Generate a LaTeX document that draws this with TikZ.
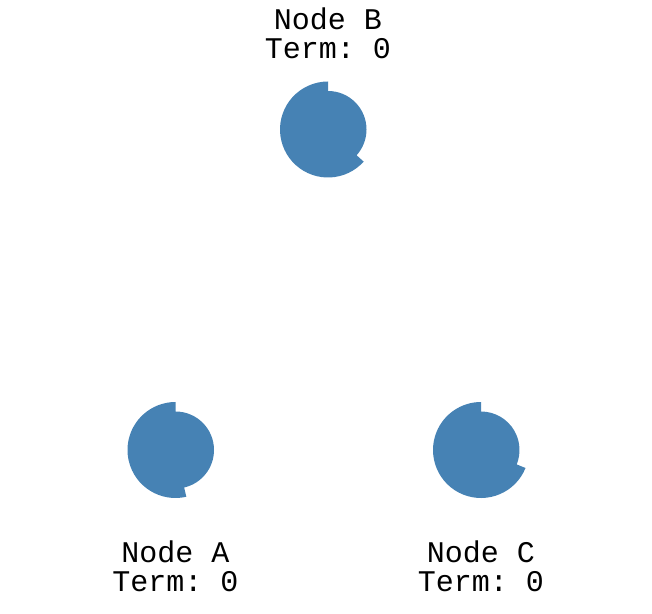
\documentclass[tikz,border=0pt]{standalone}
\usepackage{fontspec}
\setmonofont{Liberation Mono}
\usetikzlibrary{calc}
\definecolor{discblue}{RGB}{70,130,180}
\tikzset{
  lbl/.style={anchor=base,inner sep=0pt,font=\ttfamily\fontsize{30}{29}\selectfont,text=black},
  disc/.style={fill=discblue,draw=none}
}
\newcommand\termdisc[2]{%
  \fill[disc] ($(#1)+(90:38.5)$) arc[start angle=90,end angle=#2,radius=38.5]
    -- ($(#1)+(#2:48)$) arc[start angle=#2,end angle=-270,radius=48] -- cycle;}
\begin{document}
\begin{tikzpicture}[x=1pt,y=1pt]
\useasboundingbox (0,0) rectangle (652,613);
\coordinate (B) at (328,483.5);
\coordinate (A) at (175.5,163);
\coordinate (C) at (481,163);
\termdisc{B}{-42}
\termdisc{A}{-77}
\termdisc{C}{-22}
\node[lbl] (B1) at (328,583.5) {Node B};
\node[lbl] (B2) at (328,554.5) {Term: 0};
\node[lbl] (A1) at (175.5,50.5) {Node A};
\node[lbl] (A2) at (175.5,21.5) {Term: 0};
\node[lbl] (C1) at (481,50.5) {Node C};
\node[lbl] (C2) at (481,21.5) {Term: 0};
\end{tikzpicture}
\end{document}
